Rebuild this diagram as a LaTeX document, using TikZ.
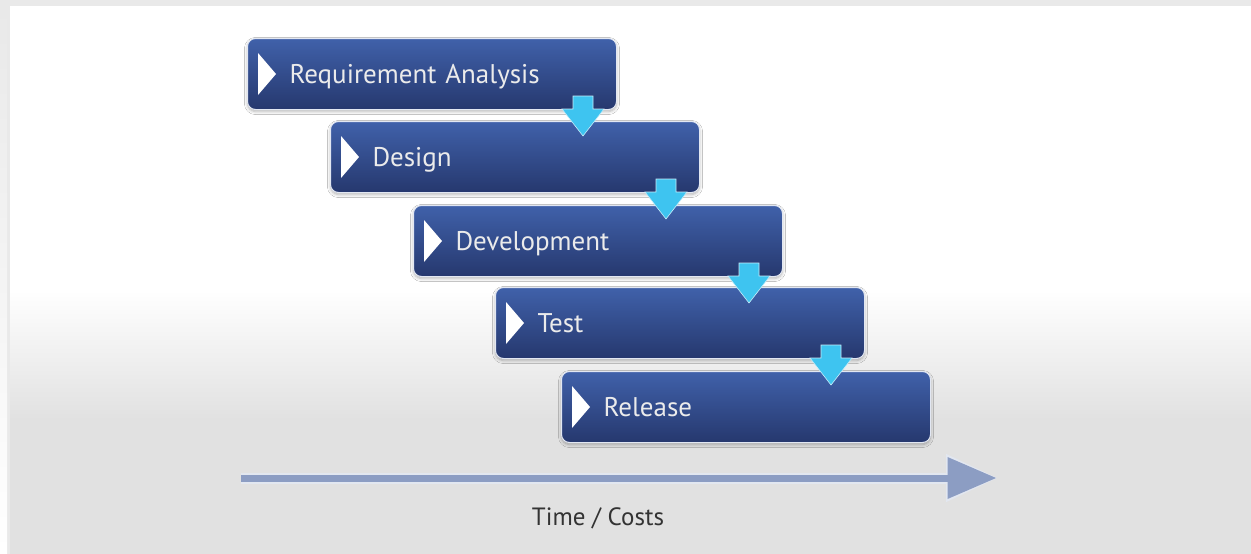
\documentclass[tikz,border=0pt]{standalone}
\usepackage{fontspec}
\setmainfont{PT Sans}
\usetikzlibrary{arrows.meta}
\usetikzlibrary{shadows, shadows.blur}
\usetikzlibrary{calc, positioning}
\definecolor{boxtop}{RGB}{64,97,170}
\definecolor{boxbot}{RGB}{38,56,110}
\definecolor{flowcyan}{RGB}{62,196,240}
\definecolor{axisblue}{RGB}{140,157,195}
\definecolor{panelgray}{RGB}{225,225,225}
\definecolor{framegray}{RGB}{233,233,233}
\tikzset{
    stage/.style={
        rectangle, rounded corners=8pt, anchor=north west,
        minimum width=369pt, minimum height=71pt,
        text width=285pt, inner xsep=42pt, align=left,
        text height=21pt, text depth=3pt,
        top color=boxtop, bottom color=boxbot,
        draw=white!85!boxtop, line width=1pt,
        text=white!92!black, font=\fontsize{27}{27}\selectfont,
        blur shadow={shadow xshift=0pt, shadow yshift=-2pt, shadow blur steps=6, shadow blur radius=3pt, shadow opacity=30}
    },
    flow/.style={fill=flowcyan, draw=white!70!flowcyan, line width=.6pt},
    marker/.style={fill=white}
}
\begin{document}
\begin{tikzpicture}[x=1pt, y=-1pt]
    % frame and panel
    \useasboundingbox (0,0) rectangle (1251,554);
    \fill[framegray] (0,0) rectangle (1251,554);
    \shade[top color=framegray, bottom color=white] (0,6) rectangle (7,554);
    \fill[white] (10,6) rectangle (1251,290);
    \shade[top color=white, bottom color=panelgray] (10,290) rectangle (1251,420);
    \fill[panelgray] (10,420) rectangle (1251,554);
    % stages
    \node[stage] (req) at (247,38) {Requirement Analysis};
    \node[stage] (des) at (330,121) {Design};
    \node[stage] (dev) at (413,205) {Development};
    \node[stage] (tst) at (495,287) {Test};
    \node[stage] (rel) at (561,371) {Release};
    \foreach \b in {req,des,dev,tst,rel}{
    \fill[marker] ([shift={(11,-21)}]\b.west) -- ([shift={(29,0)}]\b.west) -- ([shift={(11,21)}]\b.west) -- cycle;}
    \foreach \a in {req,des,dev,tst}{
    \draw[flow] ([shift={(-44,-14)}]\a.south east) -- ++(20,0) -- ++(0,13) -- ++(11,0) -- ++(-21,27) -- ++(-21,-27) -- ++(11,0) -- cycle;}
    % time axis
    \coordinate (t0) at (241,478);
    \coordinate (t1) at (998,478);
    \draw[white!75!axisblue, line width=11pt, -{Triangle[length=52pt, width=45pt]}] (t0) -- (t1);
    \draw[axisblue, line width=7pt, -{Triangle[length=49pt, width=40pt]}, shorten >=1.5pt] (t0) -- (t1);
    \node[text=black!80, font=\fontsize{25}{25}\selectfont] (time) at (598,518) {Time / Costs};
\end{tikzpicture}
\end{document}
